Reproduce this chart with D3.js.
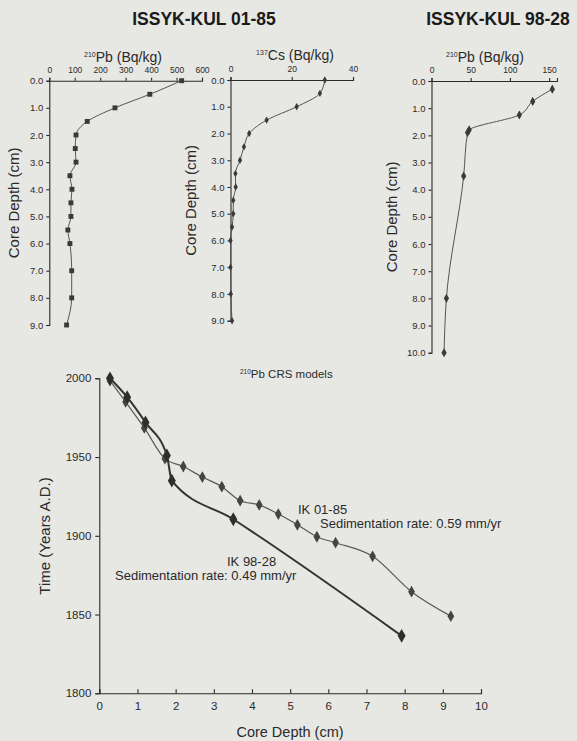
<!DOCTYPE html>
<html><head><meta charset="utf-8">
<script src="https://cdn.jsdelivr.net/npm/d3@7"></script>
<style>
html,body{margin:0;padding:0;background:#e7e7e4;}
svg{display:block;font-family:"Liberation Sans",Arial,sans-serif;}
.axis path,.axis line{stroke:#2a2a2a;stroke-width:1.1;}
.axis text{fill:#2a2a2a;}
</style></head><body>
<script>
// ---- data ----
const depth0185 = [0.0,0.5,1.0,1.5,2.0,2.5,3.0,3.5,4.0,4.5,5.0,5.5,6.0,7.0,8.0,9.0];
const pb0185 = [520,395,258,149,105,102,105,81,89,85,85,73,81,88,88,68];
const cs0185 = [30.8,29.2,21.6,11.8,6.1,4.4,3.1,1.6,1.7,0.9,0.9,0.5,0,0,0.1,0.5];
const depth9828 = [0.3,0.75,1.25,1.8,1.9,3.5,8.0,10.0];
const pb9828 = [154,129,112,48,46,41,19,16];
const crsDepth9828 = [0.28,0.73,1.21,1.77,1.9,3.51,7.92];
const crsYear9828 = [2000,1988,1972,1951,1935,1910.5,1836.5];
const crsDepth0185 = [0.28,0.69,1.18,1.72,2.2,2.7,3.21,3.69,4.19,4.69,5.19,5.7,6.19,7.16,8.18,9.21];
const crsYear0185 = [1998.5,1985,1968.5,1949,1944,1937.3,1931.2,1922.3,1919.6,1913.8,1907,1899.4,1895.6,1887,1864.5,1849];
const pbTicks = [0,100,200,300,400,500,600];
const csTicks = [0,20,40];
const pb98Ticks = [0,50,100,150];
const yearTicks = [1800,1850,1900,1950,2000];
const crsDepthTicks = [0,1,2,3,4,5,6,7,8,9,10];

const W=577,H=741;
const svg=d3.select("body").append("svg").attr("width",W).attr("height",H);
svg.append("rect").attr("width",W).attr("height",H).attr("fill","#e7e7e4");

const ink="#2a2a2a";
function zip(a,b){return a.map((d,i)=>[d,b[i]]);}

function profile(o){
  const x=d3.scaleLinear().domain(o.xd).range(o.xr);
  const y=d3.scaleLinear().domain([0,o.ymax]).range(o.yr);
  const g=svg.append("g");
  g.append("g").attr("class","axis").attr("transform",`translate(0,${o.yr[0]})`)
    .call(d3.axisTop(x).tickValues(o.xt).tickSize(3).tickPadding(5).tickSizeOuter(3))
    .call(s=>s.selectAll("text").attr("font-size",8.5));
  g.append("g").attr("class","axis").attr("transform",`translate(${o.xr[0]},0)`)
    .call(d3.axisLeft(y).tickValues(d3.range(0,o.ymax+0.01,1)).tickFormat(d3.format(".1f")).tickSize(3).tickPadding(3).tickSizeOuter(3))
    .call(s=>s.selectAll("text").attr("font-size",9.5));
  const pts=zip(o.vals,o.depths);
  g.append("path").datum(pts).attr("fill","none").attr("stroke","#555").attr("stroke-width",1)
    .attr("d",d3.line().x(d=>x(d[0])).y(d=>y(d[1])).curve(d3.curveMonotoneY));
  g.selectAll(".m").data(pts).enter().append("path")
    .attr("transform",d=>`translate(${x(d[0])},${y(d[1])})`)
    .attr("d",d3.symbol().type(o.sym).size(o.size)).attr("fill","#3a3a3a");
  // titles
  const t=g.append("text").attr("x",o.tx).attr("y",o.ty).attr("text-anchor","middle").attr("font-size",14).attr("fill",ink);
  t.append("tspan").attr("font-size",7).attr("dy",-5).text(o.sup);
  t.append("tspan").attr("dy",5).text(o.lab);
  g.append("text").attr("transform",`translate(${o.ax},${(o.yr[0]+o.yr[1])/2}) rotate(-90)`)
    .attr("text-anchor","middle").attr("font-size",15).attr("fill",ink).text("Core Depth (cm)");
}

profile({xd:[0,600],xr:[49.3,202],ymax:9,yr:[80.7,325],xt:pbTicks,vals:pb0185,depths:depth0185,
  sym:d3.symbolSquare,size:24,tx:123,ty:62,sup:"210",lab:"Pb (Bq/kg)",ax:19});
profile({xd:[0,40],xr:[230.5,353],ymax:9,yr:[80,320.7],xt:csTicks,vals:cs0185,depths:depth0185,
  sym:d3.symbolDiamond,size:16,tx:295,ty:60,sup:"137",lab:"Cs (Bq/kg)",ax:196});
profile({xd:[0,160],xr:[431.5,557],ymax:10,yr:[81,352.7],xt:pb98Ticks,vals:pb9828,depths:depth9828,
  sym:d3.symbolDiamond,size:24,tx:485,ty:62,sup:"210",lab:"Pb (Bq/kg)",ax:397});

svg.append("text").attr("x",204).attr("y",25).attr("text-anchor","middle").attr("font-size",17.5)
  .attr("font-weight","bold").attr("fill","#1a1a1a").text("ISSYK-KUL 01-85");
svg.append("text").attr("x",498).attr("y",25).attr("text-anchor","middle").attr("font-size",17.5)
  .attr("font-weight","bold").attr("fill","#1a1a1a").text("ISSYK-KUL 98-28");

// ---- bottom CRS chart ----
const bx=d3.scaleLinear().domain([0,10]).range([99.3,481]);
const by=d3.scaleLinear().domain([1800,2000]).range([693.3,378.3]);
const bg=svg.append("g");
bg.append("g").attr("class","axis").attr("transform","translate(0,693.3)")
  .call(d3.axisBottom(bx).tickValues(crsDepthTicks).tickSize(-4).tickPadding(9).tickSizeOuter(-4))
  .call(s=>s.selectAll("text").attr("font-size",11.5));
bg.append("g").attr("class","axis").attr("transform","translate(99.3,0)")
  .call(d3.axisLeft(by).tickValues(yearTicks).tickFormat(d3.format("d")).tickSize(4).tickPadding(4).tickSizeOuter(4))
  .call(s=>s.selectAll("text").attr("font-size",11.5));

const line=d3.line().x(d=>bx(d[0])).y(d=>by(d[1])).curve(d3.curveMonotoneX);
const s0185=zip(crsDepth0185,crsYear0185), s9828=zip(crsDepth9828,crsYear9828);
bg.append("path").datum(s0185).attr("fill","none").attr("stroke","#5a5a5a").attr("stroke-width",1.2).attr("d",line);
bg.selectAll(".a").data(s0185).enter().append("path")
  .attr("transform",d=>`translate(${bx(d[0])},${by(d[1])})`)
  .attr("d",d3.symbol().type(d3.symbolDiamond).size(40)).attr("fill","#444");
bg.append("path").datum(s9828).attr("fill","none").attr("stroke","#333").attr("stroke-width",2).attr("d",line);
bg.selectAll(".b").data(s9828).enter().append("path")
  .attr("transform",d=>`translate(${bx(d[0])},${by(d[1])})`)
  .attr("d",d3.symbol().type(d3.symbolDiamond).size(55)).attr("fill","#2e2e2e");

const ct=bg.append("text").attr("x",240).attr("y",378).attr("font-size",11.5).attr("fill",ink);
ct.append("tspan").attr("font-size",6.5).attr("dy",-4).text("210");
ct.append("tspan").attr("dy",4).text("Pb CRS models");

bg.append("text").attr("x",298).attr("y",514).attr("font-size",13).attr("fill",ink).text("IK 01-85");
bg.append("text").attr("x",320).attr("y",528).attr("font-size",13).attr("fill",ink).text("Sedimentation rate: 0.59 mm/yr");
bg.append("text").attr("x",227).attr("y",566).attr("font-size",13).attr("fill",ink).text("IK 98-28");
bg.append("text").attr("x",115).attr("y",580).attr("font-size",13).attr("fill",ink).text("Sedimentation rate: 0.49 mm/yr");

bg.append("text").attr("x",290).attr("y",737).attr("text-anchor","middle").attr("font-size",14.5).attr("fill",ink).text("Core Depth (cm)");
bg.append("text").attr("transform","translate(50,536) rotate(-90)").attr("text-anchor","middle")
  .attr("font-size",15).attr("fill",ink).text("Time (Years A.D.)");
</script>
</body></html>
